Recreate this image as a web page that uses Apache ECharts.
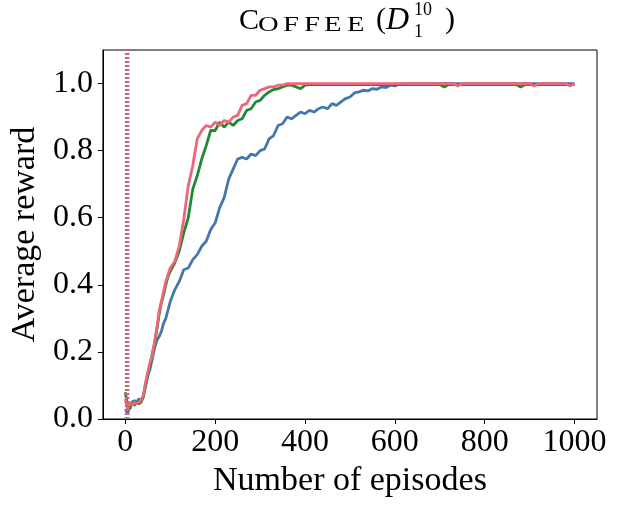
<!DOCTYPE html>
<html>
<head>
<meta charset="utf-8">
<script src="https://cdn.jsdelivr.net/npm/echarts@6/dist/echarts.min.js"></script>
<style>
  html, body { margin: 0; padding: 0; background: #fff; }
  #main { width: 617px; height: 509px; }
</style>
</head>
<body>
<div id="main"></div>
<script>
// episodes: every 5 up to 100, then every 10
const episodes = [0, 5, 10, 15, 20, 25, 30, 35, 40, 45, 50, 55, 60, 65, 70, 75, 80, 85, 90, 95, 100,
  110, 120, 130, 140, 150, 160, 170, 180, 190, 200, 210, 220, 230, 240, 250, 260, 270, 280, 290, 300,
  310, 320, 330, 340, 350, 360, 370, 380, 390, 400, 410, 420, 430, 440, 450, 460, 470, 480, 490, 500,
  510, 520, 530, 540, 550, 560, 570, 580, 590, 600, 610, 620, 630, 640, 650, 660, 670, 680, 690, 700,
  710, 720, 730, 740, 750, 760, 770, 780, 790, 800, 810, 820, 830, 840, 850, 860, 870, 880, 890, 900,
  910, 920, 930, 940, 950, 960, 970, 980, 990, 1000];

const blueReward = [0.03, 0.015, 0.04, 0.05, 0.055, 0.05, 0.06, 0.055, 0.07, 0.10, 0.13, 0.15, 0.18, 0.21, 0.235, 0.245, 0.26, 0.285, 0.30, 0.325, 0.35,
  0.385, 0.41, 0.445, 0.45, 0.475, 0.49, 0.515, 0.53, 0.565, 0.585, 0.63, 0.66, 0.715, 0.745, 0.775, 0.78, 0.775, 0.79, 0.785, 0.80,
  0.805, 0.835, 0.845, 0.875, 0.88, 0.9, 0.895, 0.905, 0.915, 0.91, 0.92, 0.915, 0.925, 0.93, 0.925, 0.94, 0.935, 0.945, 0.955, 0.96,
  0.972, 0.975, 0.98, 0.978, 0.985, 0.983, 0.99, 0.988, 0.995, 0.993, 0.998, 1, 1, 1, 1, 1, 1, 1, 1, 1,
  1, 1, 1, 1, 1, 1, 1, 1, 1, 1, 1, 1, 1, 1, 1, 1, 1, 1, 1, 1,
  1, 1, 1, 1, 1, 1, 1, 1, 1, 1];

const greenReward = [0.08, 0.04, 0.03, 0.05, 0.04, 0.05, 0.045, 0.05, 0.065, 0.10, 0.13, 0.16, 0.195, 0.225, 0.265, 0.31, 0.345, 0.37, 0.40, 0.425, 0.44,
  0.465, 0.50, 0.555, 0.60, 0.685, 0.725, 0.775, 0.815, 0.86, 0.86, 0.885, 0.87, 0.885, 0.875, 0.89, 0.895, 0.92, 0.925, 0.945, 0.95,
  0.965, 0.975, 0.982, 0.985, 0.99, 0.995, 0.995, 0.99, 0.985, 0.995, 0.997, 0.997, 0.997, 0.997, 0.997, 0.997, 0.997, 0.997, 0.997, 0.997,
  0.997, 0.997, 0.997, 0.997, 0.997, 0.997, 0.997, 0.997, 0.997, 0.997, 0.997, 0.997, 0.997, 0.997, 0.997, 0.997, 0.997, 0.997, 0.997, 0.997,
  0.99, 0.997, 0.997, 0.997, 0.997, 0.997, 0.997, 0.997, 0.997, 0.997, 0.997, 0.997, 0.997, 0.997, 0.997, 0.997, 0.997, 0.99, 0.997, 0.997,
  0.997, 0.997, 0.997, 0.997, 0.997, 0.997, 0.997, 0.997, 0.997, 0.997];

const redReward = [0.06, 0.03, 0.05, 0.04, 0.05, 0.045, 0.05, 0.055, 0.07, 0.11, 0.14, 0.17, 0.19, 0.23, 0.27, 0.32, 0.35, 0.38, 0.41, 0.43, 0.45,
  0.47, 0.515, 0.595, 0.695, 0.755, 0.835, 0.86, 0.875, 0.87, 0.885, 0.875, 0.89, 0.885, 0.9, 0.905, 0.935, 0.94, 0.965, 0.965, 0.98,
  0.985, 0.99, 0.99, 0.995, 0.995, 1, 1, 1, 1, 1, 1, 1, 1, 1, 1, 1, 1, 1, 1, 1,
  1, 1, 1, 1, 1, 1, 1, 1, 1, 1, 1, 1, 1, 1, 1, 1, 1, 1, 1, 1,
  1, 1, 1, 0.993, 1, 1, 1, 1, 1, 1, 1, 1, 1, 1, 1, 1, 1, 1, 1, 1,
  0.993, 1, 1, 1, 1, 1, 1, 1, 0.993, 1];

const xTicks = [0, 200, 400, 600, 800, 1000];
const yTicks = [0, 0.2, 0.4, 0.6, 0.8, 1.0];
const markerEpisode = 4;
const markerSpan = [0, 1.1];

const font = 'Liberation Serif';

const pairs = (ys) => episodes.map((x, i) => [x, ys[i]]);

const myChart = echarts.init(document.getElementById('main'));

const line = (ys, color) => ({
  type: 'line',
  data: pairs(ys),
  showSymbol: false,
  lineStyle: { color: color, width: 2.8 },
  itemStyle: { color: color }
});

const titleText = (text, x, y, size, extra) => ({
  type: 'text',
  left: x,
  top: y,
  style: Object.assign({ text: text, font: size + 'px "' + font + '"', fill: '#000' }, extra || {})
});

// wide small-caps letter
const capText = (text, x) => ({
  type: 'text',
  x: x,
  y: 14,
  scaleX: 1.3,
  style: { text: text, font: '22px "' + font + '"', fill: '#000' }
});

const option = {
  animation: false,
  grid: { left: 100, right: 20, top: 50, bottom: 90, show: true, borderColor: '#000', borderWidth: 1 },
  xAxis: {
    type: 'value',
    min: -50,
    max: 1050,
    name: 'Number of episodes',
    nameLocation: 'middle',
    nameGap: 41,
    nameTextStyle: { fontFamily: font, fontSize: 34, color: '#000' },
    axisLine: { show: true, onZero: false, lineStyle: { color: '#000' } },
    axisTick: { show: true, length: 5, customValues: xTicks, lineStyle: { color: '#000' } },
    axisLabel: {
      customValues: xTicks,
      margin: 8,
      fontFamily: font,
      fontSize: 32,
      color: '#000',
      formatter: (v) => String(v)
    },
    splitLine: { show: false }
  },
  yAxis: {
    type: 'value',
    min: 0,
    max: 1.1,
    name: 'Average reward',
    nameLocation: 'middle',
    nameGap: 54,
    nameTextStyle: { fontFamily: font, fontSize: 34, color: '#000' },
    axisLine: { show: true, onZero: false, lineStyle: { color: '#000' } },
    axisTick: { show: true, length: 5, customValues: yTicks, lineStyle: { color: '#000' } },
    axisLabel: {
      customValues: yTicks,
      margin: 10,
      fontFamily: font,
      fontSize: 32,
      color: '#000',
      formatter: (v) => v.toFixed(1)
    },
    splitLine: { show: false }
  },
  series: [
    line(blueReward, '#4477AA'),
    line(greenReward, '#228833'),
    line(redReward, '#EE6677'),
    {
      type: 'line',
      data: markerSpan.map((y) => [markerEpisode, y]),
      showSymbol: false,
      silent: true,
      z: 3,
      lineStyle: { color: '#CC6677', width: 4.5, type: [2, 2], cap: 'butt' }
    }
  ],
  graphic: [
    titleText('C', 239, 6, 30),
    capText('O', 258),
    capText('F', 283),
    capText('F', 304),
    capText('E', 324),
    capText('E', 347),
    titleText('(', 376, 5, 30),
    titleText('D', 386, 5, 32, { font: 'italic 32px "' + font + '"' }),
    titleText('10', 414, 1, 18),
    titleText('1', 414, 23, 18),
    titleText(')', 445, 5, 30)
  ]
};

myChart.setOption(option);
</script>
</body>
</html>
